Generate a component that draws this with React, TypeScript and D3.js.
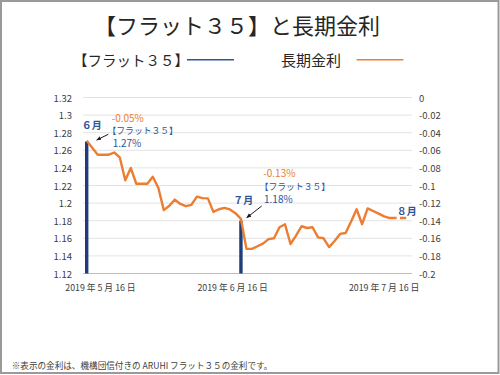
import React from "react";
import * as d3 from "d3";

// ---- data ----
const longTermRate: (number | null)[] = [
  -0.049, -0.057, -0.065, -0.065, -0.065, -0.0625, -0.068, -0.094, -0.08, -0.098,
  -0.098, -0.098, -0.09, -0.1025, -0.128, -0.123, -0.116, -0.121, -0.1235, -0.122,
  -0.1127, -0.1143, -0.1146, -0.13, -0.127, -0.1254, -0.1272, -0.1314, -0.138, -0.172,
  -0.172, -0.169, -0.166, -0.161, -0.16, -0.1474, -0.144, -0.1665, -0.157, -0.1463,
  -0.1483, -0.1474, -0.159, -0.16, -0.17, -0.163, -0.155, -0.154, -0.141, -0.127,
  -0.144, -0.126, -0.129, -0.132, -0.135, -0.137, -0.137, -0.137, -0.137,
];
const solidEndIndex = 56;
const flatIndex = [0, 28];
const flatRate = [1.27, 1.18];
const leftTicks = [1.12, 1.14, 1.16, 1.18, 1.2, 1.22, 1.24, 1.26, 1.28, 1.3, 1.32];
const rightTicks = [-0.2, -0.18, -0.16, -0.14, -0.12, -0.1, -0.08, -0.06, -0.04, -0.02, 0];
const xTickPos = [2.5, 26.5, 54];
const xTickLabels = ["2019 年 5 月 16 日", "2019 年 6 月 16 日", "2019 年 7 月 16 日"];

const FONT = "'Noto Sans CJK JP', 'Noto Sans', sans-serif";
const ORANGE = "#ed7d31";
const BLUE = "#2f5597";
const NAVY = "#203d7a";
const TXT = "#404040";

export default function App() {
  const W = 500, H = 375;
  const plotL = 83, plotR = 412, plotT = 97.5, plotB = 273.5;
  const x = d3.scaleLinear().domain([0, longTermRate.length - 1]).range([86.7, 406.2]);
  const yL = d3.scaleLinear().domain([1.12, 1.32]).range([plotB, plotT]);
  const yR = d3.scaleLinear().domain([-0.2, 0]).range([plotB, plotT]);
  const fmt = (v: number) => String(+v.toFixed(2));

  const pts = longTermRate.map((v, i) => ({ i, v }));
  const line = d3
    .line<{ i: number; v: number | null }>()
    .defined((d) => d.v !== null)
    .x((d) => x(d.i))
    .y((d) => yR(d.v as number));
  const solid = line(pts.slice(0, solidEndIndex + 1)) || "";
  const dashed = line(pts.slice(solidEndIndex)) || "";

  return (
    <svg
      width={W}
      height={H}
      style={{ position: "absolute", left: 0, top: 0, background: "#fff" }}
      fontFamily={FONT}
    >
      <defs>
        <marker id="ah" viewBox="0 0 10 10" refX="9" refY="5" markerWidth="5" markerHeight="5" orient="auto">
          <path d="M0,1 L10,5 L0,9 z" fill="#1a1a1a" />
        </marker>
      </defs>
      <rect x={1} y={1} width={W - 2.5} height={H - 3} fill="#fff" stroke="#9a9a9a" strokeWidth={2} />

      {/* title */}
      <text x={94} y={24} fontSize={22} fill="#262626" dominantBaseline="central">
        【フラット３５】と長期金利
      </text>

      {/* legend */}
      <text x={73} y={59.5} fontSize={14.5} fill="#262626" dominantBaseline="central">
        【フラット３５】
      </text>
      <line x1={187} x2={234} y1={59.7} y2={59.7} stroke={BLUE} strokeWidth={1.6} />
      <text x={281} y={59.5} fontSize={15} fill="#262626" dominantBaseline="central">
        長期金利
      </text>
      <line x1={356.7} x2={403.3} y1={59.7} y2={59.7} stroke={ORANGE} strokeWidth={1.6} />

      {/* gridlines */}
      {leftTicks.map((t) => (
        <line
          key={t}
          x1={plotL}
          x2={plotR}
          y1={yL(t)}
          y2={yL(t)}
          stroke={t === 1.12 ? "#bfbfbf" : "#e3e3e3"}
          strokeWidth={1}
        />
      ))}

      {/* left axis labels */}
      {leftTicks.map((t) => (
        <text key={t} x={72} y={yL(t)} fontSize={9.5} fill={TXT} textAnchor="end" dominantBaseline="central">
          {fmt(t)}
        </text>
      ))}
      {/* right axis labels */}
      {rightTicks.map((t) => (
        <text key={t} x={419} y={yR(t)} fontSize={9.5} fill={TXT} dominantBaseline="central">
          {fmt(t)}
        </text>
      ))}
      {/* x labels */}
      {xTickPos.map((p, k) => (
        <text key={k} x={x(p)} y={287} fontSize={8.8} fill={TXT} textAnchor="middle" dominantBaseline="central">
          {xTickLabels[k]}
        </text>
      ))}

      {/* flat35 bars */}
      {flatIndex.map((idx, k) => (
        <rect
          key={k}
          x={x(idx) - 1.7}
          width={3.4}
          y={yL(flatRate[k])}
          height={plotB - yL(flatRate[k])}
          fill={NAVY}
        />
      ))}

      {/* long-term rate line */}
      <path d={solid} fill="none" stroke={ORANGE} strokeWidth={2.4} strokeLinejoin="round" />
      <path d={dashed} fill="none" stroke={ORANGE} strokeWidth={2.4} strokeDasharray="1.5,3.3,20" />

      {/* annotations */}
      <text x={81.7} y={124.3} fontSize={10} fontWeight="bold" fill={BLUE} dominantBaseline="central">６月</text>
      <text x={111.7} y={117} fontSize={10} fill={ORANGE} dominantBaseline="central">-0.05%</text>
      <text x={107.5} y={130} fontSize={8.8} fill={BLUE} dominantBaseline="central">【フラット３５】</text>
      <text x={112.7} y={142.6} fontSize={10} fill={BLUE} dominantBaseline="central">1.27%</text>
      <line x1={108.3} y1={134.3} x2={96.7} y2={140} stroke="#1a1a1a" strokeWidth={1} markerEnd="url(#ah)" />

      <text x={233.3} y={199.3} fontSize={10} fontWeight="bold" fill={BLUE} dominantBaseline="central">７月</text>
      <text x={263.3} y={172.8} fontSize={10} fill={ORANGE} dominantBaseline="central">-0.13%</text>
      <text x={259.7} y={186} fontSize={8.8} fill={BLUE} dominantBaseline="central">【フラット３５】</text>
      <text x={264} y={198.6} fontSize={10} fill={BLUE} dominantBaseline="central">1.18%</text>
      <line x1={261.7} y1={206} x2={246.7} y2={217.7} stroke="#1a1a1a" strokeWidth={1} markerEnd="url(#ah)" />

      <text x={396.7} y={210} fontSize={10} fontWeight="bold" fill={BLUE} dominantBaseline="central">８月</text>

      {/* footnote */}
      <text x={11.7} y={365} fontSize={8.6} fill={TXT} dominantBaseline="central">
        ※表示の金利は、機構団信付きの ARUHI フラット３５の金利です。
      </text>
    </svg>
  );
}
